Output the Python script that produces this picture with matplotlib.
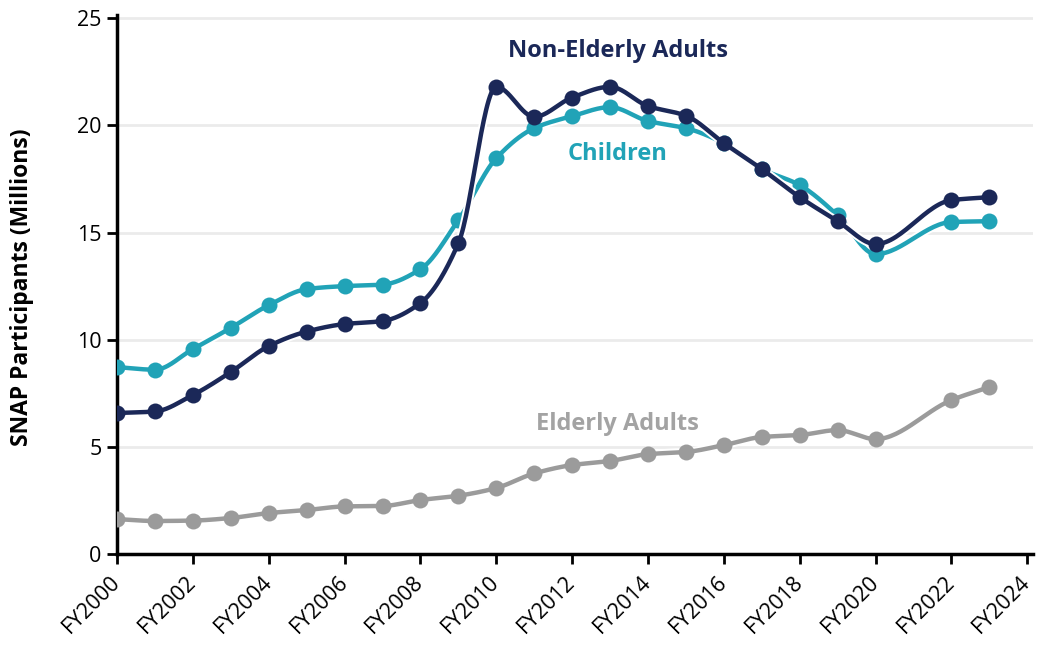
import numpy as np
import matplotlib
matplotlib.use("Agg")
from matplotlib import pyplot as plt
import matplotlib.patheffects as pe

plt.rcParams['font.family'] = ['Open Sans', 'DejaVu Sans']

# fiscal years (no FY2021 point in the source)
years = [2000, 2001, 2002, 2003, 2004, 2005, 2006, 2007, 2008, 2009, 2010, 2011,
         2012, 2013, 2014, 2015, 2016, 2017, 2018, 2019, 2020, 2022, 2023]

non_elderly = [6.58, 6.65, 7.42, 8.49, 9.70, 10.38, 10.73, 10.87, 11.71, 14.5, 21.8, 20.4,
               21.3, 21.8, 20.9, 20.45, 19.17, 17.96, 16.65, 15.53, 14.46, 16.51, 16.65]
children = [8.72, 8.60, 9.56, 10.55, 11.61, 12.36, 12.5, 12.57, 13.29, 15.58, 18.47, 19.87,
            20.43, 20.85, 20.2, 19.87, 19.17, 17.96, 17.21, 15.8, 13.99, 15.49, 15.53]
elderly = [1.63, 1.54, 1.56, 1.68, 1.91, 2.05, 2.22, 2.24, 2.52, 2.72, 3.08, 3.76,
           4.15, 4.34, 4.66, 4.76, 5.08, 5.46, 5.55, 5.78, 5.36, 7.18, 7.79]

tick_years = list(range(2000, 2025, 2))
tick_labels = ['FY%d' % y for y in tick_years]


def monotone(x, y, n=30):
    # monotone cubic (Fritsch-Carlson) used only to draw the smooth line
    x = np.asarray(x, float)
    y = np.asarray(y, float)
    h = np.diff(x)
    d = np.diff(y) / h
    m = np.zeros_like(y)
    m[0], m[-1] = d[0], d[-1]
    for i in range(1, len(y) - 1):
        if d[i - 1] * d[i] <= 0:
            m[i] = 0
        else:
            w1 = 2 * h[i] + h[i - 1]
            w2 = h[i] + 2 * h[i - 1]
            m[i] = (w1 + w2) / (w1 / d[i - 1] + w2 / d[i])
    xs, ys = [], []
    for i in range(len(h)):
        t = np.linspace(0, 1, n, endpoint=False)
        h00 = 2 * t**3 - 3 * t**2 + 1
        h10 = t**3 - 2 * t**2 + t
        h01 = -2 * t**3 + 3 * t**2
        h11 = t**3 - t**2
        xs.append(x[i] + t * h[i])
        ys.append(h00 * y[i] + h10 * h[i] * m[i] + h01 * y[i + 1] + h11 * h[i] * m[i + 1])
    xs.append([x[-1]])
    ys.append([y[-1]])
    return np.concatenate(xs), np.concatenate(ys)


fig = plt.figure(figsize=(10.39, 6.46), dpi=100)
ax = fig.add_axes([117 / 1039, (646 - 554) / 646, (1033 - 117) / 1039, (554 - 15) / 646])

navy = '#1b2858'
teal = '#21a3b7'
grey = '#9b9b9b'

halo = [pe.Stroke(linewidth=6, foreground='white'), pe.Normal()]
for vals, col, z in [(elderly, grey, 3), (children, teal, 4), (non_elderly, navy, 5)]:
    sx, sy = monotone(years, vals)
    ax.plot(sx, sy, color=col, lw=3.2, zorder=z, path_effects=halo, solid_capstyle='round')
    ax.plot(years, vals, 'o', color=col, ms=11.5, zorder=z, mec='none')

ax.text(2013.2, 23.45, 'Non-Elderly Adults', color=navy, fontsize=17, fontweight='bold',
        ha='center', va='center')
ax.text(2013.2, 18.65, 'Children', color=teal, fontsize=17, fontweight='bold',
        ha='center', va='center')
ax.text(2013.2, 6.05, 'Elderly Adults', color='#a3a3a3', fontsize=17, fontweight='bold',
        ha='center', va='center')

ax.set_xlim(2000, 2024.15)
ax.set_ylim(0, 25.15)
ax.set_yticks([0, 5, 10, 15, 20, 25])
ax.set_xticks(tick_years)
ax.set_xticklabels(tick_labels, rotation=45, ha='right', va='center', rotation_mode='anchor')
ax.tick_params(labelsize=15.5, width=2, length=7, color='black', pad=4)
ax.tick_params(axis='x', labelsize=15.5, pad=11)
ax.grid(axis='y', color='#ebebeb', lw=2)
ax.set_axisbelow(True)
for s in ['top', 'right']:
    ax.spines[s].set_visible(False)
for s in ['left', 'bottom']:
    ax.spines[s].set_linewidth(2.5)
ax.set_ylabel('SNAP Participants (Millions)', fontsize=16.5, fontweight='bold')
ax.yaxis.set_label_coords(-0.091, 0.495)

fig.savefig('out.png', dpi=100)
